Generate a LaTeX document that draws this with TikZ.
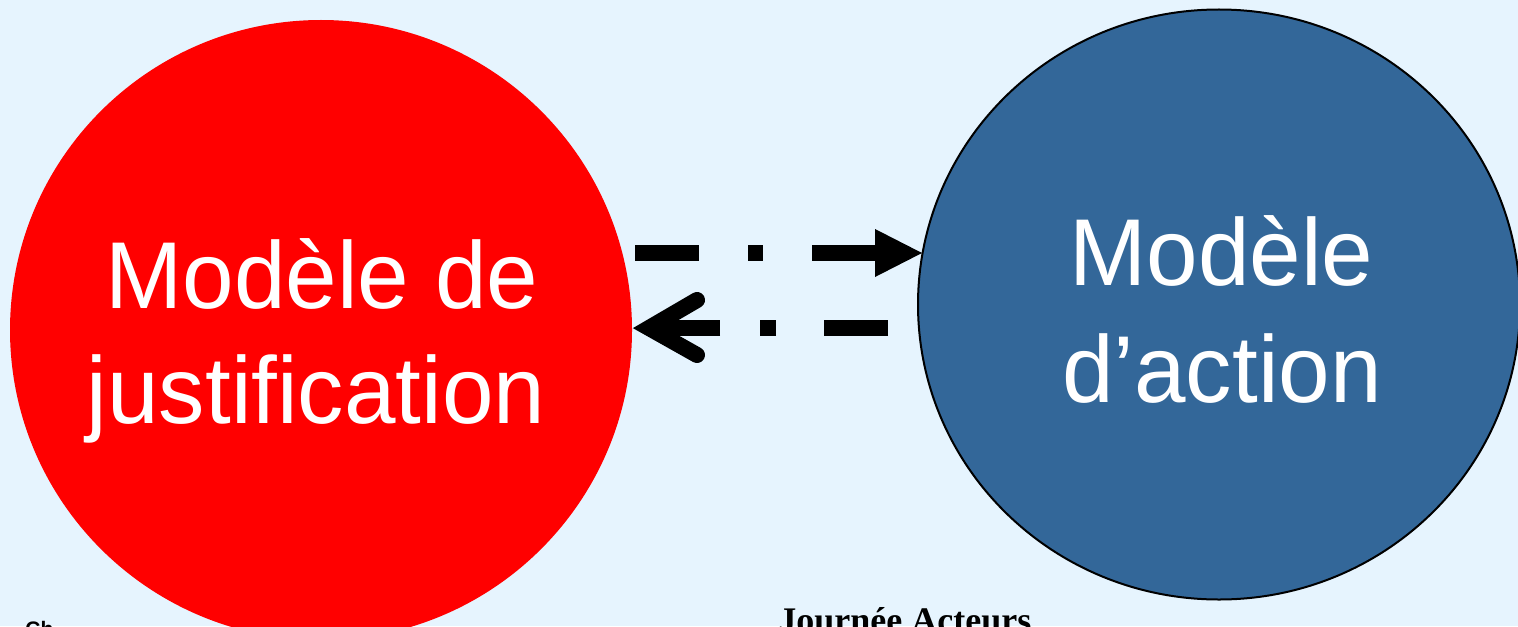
\documentclass[tikz,border=0pt]{standalone}
\usepackage{fontspec}
\setmainfont{Liberation Sans}
\newfontfamily\serifbold{Liberation Serif}
\newfontfamily\bigsans[FakeStretch=0.975]{Liberation Sans}
\usetikzlibrary{shapes.geometric,arrows.meta}
\definecolor{bgblue}{RGB}{230,244,254}
\definecolor{actblue}{RGB}{51,103,153}
\tikzset{
  bubble/.style={ellipse, inner sep=0pt, outer sep=0pt},
  bigtext/.style={text=white, inner sep=0pt, anchor=base, font=\bigsans\fontsize{47.5pt}{57.5pt}\selectfont},
  thickline/.style={line width=8pt},
}
\begin{document}
\begin{tikzpicture}[x=0.5pt,y=-0.5pt]
\useasboundingbox (0,0) rectangle (1518,626);
\clip (0,0) rectangle (1518,626);
\fill[bgblue] (0,0) rectangle (1518,626);
% circles
\node[bubble, fill=red, minimum width=311pt, minimum height=310pt] (just) at (321,330) {};
\node[bubble, fill=actblue, draw=black, line width=1pt, minimum width=301pt, minimum height=295pt] (act) at (1219,304.5) {};
% texts
\node[bigtext] (j1) at (322,308) {Modèle de};
\node[bigtext] (j2) at (316,423) {justification};
\node[bigtext] (a1) at (1221.5,285) {Modèle};
\node[bigtext] (a2) at (1222,402) {d’action};
% connectors
\coordinate (t1) at (635,253);
\coordinate (t2) at (922,253);
\draw[thickline, dash pattern=on 32pt off 24.5pt on 7.5pt off 24.5pt on 60pt off 10pt,
      -{Triangle[length=23.5pt,width=24pt,line width=0pt]}] (t1) -- (t2);
\coordinate (b1) at (888,328);
\coordinate (b2) at (649,328);
\coordinate (h1) at (697,300);
\coordinate (h2) at (697,355);
\draw[thickline, dash pattern=on 32pt off 24pt on 8pt off 20pt on 100pt off 10pt] (b1) -- (b2);
\draw[thickline, line cap=round, line join=miter] (h1) -- (b2) -- (h2);
% bottom texts
\node[inner sep=0pt, anchor=base west, font=\serifbold\bfseries\fontsize{18pt}{20pt}\selectfont] (jour) at (778,632) {Journée Acteurs};
\node[inner sep=0pt, anchor=base west, font=\bfseries\fontsize{10.5pt}{12pt}\selectfont] (ch) at (25,636) {Ch};
\end{tikzpicture}
\end{document}
